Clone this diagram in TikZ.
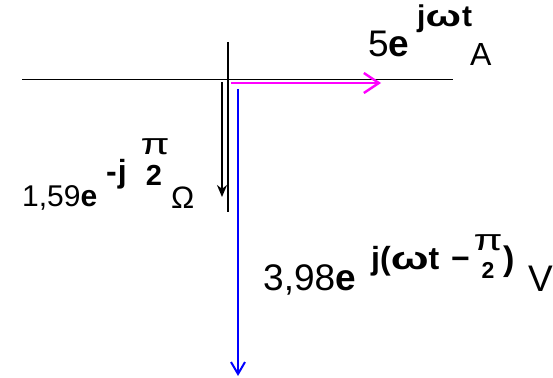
\documentclass[tikz,border=0pt]{standalone}
\usepackage{fontspec}
\setmainfont{Liberation Sans}
\usetikzlibrary{arrows.meta}
\definecolor{PhMag}{HTML}{FF00FF}
\definecolor{PhBlue}{HTML}{0000FF}
\newcommand{\wideomega}{\scalebox{1.4}[1]{ω}}
\newcommand{\widepi}{\scalebox{1.4}[1]{π}}
\tikzset{
  axis/.style={black,line width=1.4pt},
  phasor/.style={line width=2pt},
  zphasor/.style={phasor,black,-{Stealth[length=12pt,width=10pt]}},
  iphasor/.style={phasor,PhMag,line width=2.4pt,-{Straight Barb[length=15pt,width=20pt]}},
  uphasor/.style={phasor,PhBlue,-{Straight Barb[length=12pt,width=14pt]}},
  val/.style={inner sep=0pt,anchor=base west,font=\fontsize{37}{44}\selectfont},
  expo/.style={inner sep=0pt,anchor=base west,font=\fontsize{32}{36}\selectfont\bfseries},
  unit/.style={val,font=\fontsize{32}{36}\selectfont},
  fracpart/.style={inner sep=0pt,anchor=base,font=\fontsize{30}{34}\selectfont},
}
\begin{document}
\begin{tikzpicture}[x=1pt,y=-1pt]
  \useasboundingbox (0,0) rectangle (553,377);
  % axes
  \coordinate (west) at (22,79.5);
  \coordinate (east) at (453,79.5);
  \coordinate (north) at (228,42);
  \coordinate (south) at (228,212);
  \draw[axis] (west)--(east);
  \draw[axis] (north)--(south);

  % phasors
  \coordinate (zfrom) at (222,82);
  \coordinate (zto) at (222,197);
  \coordinate (ifrom) at (231,83);
  \coordinate (ito) at (381,83);
  \coordinate (ufrom) at (238,89);
  \coordinate (uto) at (238,376);
  \draw[zphasor] (zfrom)--(zto);
  \draw[iphasor] (ifrom)--(ito);
  \draw[uphasor] (ufrom)--(uto);

  % current
  \node[val] (imag) at (368,57) {5\textbf{e}};
  \node[expo,font=\fontsize{30}{34}\selectfont\bfseries] (iexp) at (417,27) {j\wideomega\kern1pt t};
  \node[unit] (iunit) at (470,66) {A};

  % impedance
  \node[val,font=\fontsize{30}{34}\selectfont] (zmag) at (22,206) {1,59\textbf{e}};
  \node[expo,font=\fontsize{32}{36}\selectfont\bfseries] (zexp) at (106,182) {-\kern1pt j};
  \node[fracpart] (zpi) at (155,154) {\widepi};
  \node[fracpart,font=\fontsize{29}{32}\selectfont\bfseries] (ztwo) at (154,185) {2};
  \node[unit,font=\fontsize{31}{34}\selectfont] (zunit) at (171,208) {Ω};

  % voltage
  \node[val] (umag) at (263,290) {3,98\textbf{e}};
  \node[expo] (uexp) at (371,269) {j(\wideomega t};
  \node[expo] (uminus) at (451,269) {−};
  \node[fracpart] (upi) at (488,250) {\widepi};
  \node[fracpart,font=\fontsize{23}{26}\selectfont\bfseries] (utwo) at (488,278) {2};
  \node[expo,font=\fontsize{34}{38}\selectfont\bfseries] (uclose) at (503,270) {)};
  \node[val] (uunit) at (528,291) {V};
\end{tikzpicture}
\end{document}
